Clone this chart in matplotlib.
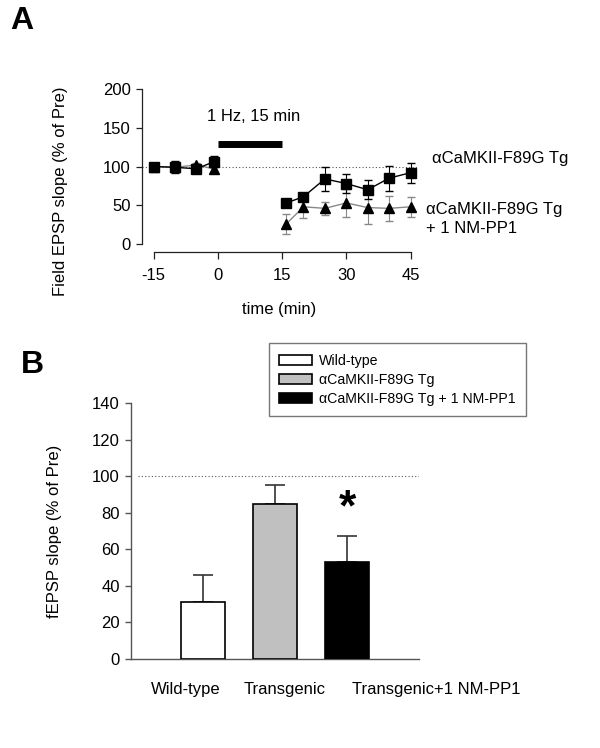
import matplotlib
matplotlib.use("Agg")
import matplotlib.pyplot as plt

plt.rcParams["font.family"] = ["Liberation Sans", "DejaVu Sans"]
plt.rcParams["font.size"] = 12
plt.rcParams["axes.unicode_minus"] = False

# panel A: time course (pre = baseline, post = after 1 Hz stimulation)
t_pre = [-15, -10, -5, -1]
t_post = [16, 20, 25, 30, 35, 40, 45]

tg_pre = [100, 99, 97, 106]
tg_pre_err = [2, 8, 4, 7]
tg_post = [53, 61, 84, 78, 70, 85, 92]
tg_post_err = [4, 3, 16, 12, 12, 16, 13]

nm_pre = [100, 99, 102, 97]
nm_pre_err = [2, 5, 3, 5]
nm_post = [26, 48, 46, 53, 47, 46, 48]
nm_post_err = [13, 14, 8, 18, 21, 16, 13]

stim_start, stim_end = 0, 15
x_ticks_a = [-15, 0, 15, 30, 45]
y_ticks_a = [0, 50, 100, 150, 200]

# panel B: summary bars
groups = ["Wild-type", "Transgenic", "Transgenic+1 NM-PP1"]
legend_names = ["Wild-type", "\u03b1CaMKII-F89G Tg", "\u03b1CaMKII-F89G Tg + 1 NM-PP1"]
bar_mean = [31, 84.5, 53]
bar_err = [15, 10.5, 14.5]
bar_colors = ["white", "#c0c0c0", "black"]
y_ticks_b = [0, 20, 40, 60, 80, 100, 120, 140]

fig = plt.figure(figsize=(6, 7.48), dpi=100)

# ---------------- A ----------------
ax = fig.add_axes([0.2367, 0.6738, 0.4583, 0.2072])
ax.axhline(100, color="#555555", ls=(0, (1, 2)), lw=0.8, zorder=1)
for tt, mm, ee in [(t_pre, nm_pre, nm_pre_err), (t_post, nm_post, nm_post_err)]:
    ax.errorbar(tt, mm, yerr=ee, color="#888888", lw=1, ecolor="#888888",
                elinewidth=0.8, capsize=3, marker="^", ms=7, mfc="black", mec="black", zorder=3)
for tt, mm, ee in [(t_pre, tg_pre, tg_pre_err), (t_post, tg_post, tg_post_err)]:
    ax.errorbar(tt, mm, yerr=ee, color="black", lw=1, ecolor="black",
                elinewidth=0.8, capsize=3, marker="s", ms=7, mfc="black", mec="black", zorder=4)
ax.plot([stim_start, stim_end], [129, 129], color="black", lw=5, solid_capstyle="butt")
ax.text(-2.6, 165, "1 Hz, 15 min", ha="left", va="center")

ax.text(49.9, 110, "\u03b1CaMKII-F89G Tg", ha="left", va="center", clip_on=False)
ax.text(48.7, 45, "\u03b1CaMKII-F89G Tg", ha="left", va="center", clip_on=False)
ax.text(48.7, 20.5, "+ 1 NM-PP1", ha="left", va="center", clip_on=False)

ax.set_xlim(-17.7, 46.5)
ax.set_ylim(0, 200)
ax.set_xticks(x_ticks_a)
ax.set_yticks(y_ticks_a)
for s in ["top", "right"]:
    ax.spines[s].set_visible(False)
ax.spines["bottom"].set_position(("outward", 6))
ax.spines["bottom"].set_bounds(-15, 45)
ax.spines["left"].set_bounds(0, 200)
for s in ["bottom", "left"]:
    ax.spines[s].set_linewidth(0.9)
    ax.spines[s].set_color("#222222")
ax.tick_params(axis="x", direction="out", length=5, width=0.9, color="#222222", pad=6)
ax.tick_params(axis="y", direction="out", length=4, width=0.9, color="#222222", pad=4)
ax.set_xlabel("time (min)", labelpad=14)
ax.set_ylabel("Field EPSP slope (% of Pre)")
ax.yaxis.set_label_coords(-0.27, 0.34)

# ---------------- B ----------------
bx = fig.add_axes([0.2183, 0.119, 0.48, 0.3422])
pos = [1, 2, 3]
bars = bx.bar(pos, bar_mean, width=0.61, color=bar_colors, edgecolor="black",
              linewidth=1.2, zorder=3)
bx.errorbar(pos, bar_mean, yerr=[[0, 0, 0], bar_err], fmt="none", ecolor="#333333",
            elinewidth=1.2, capsize=7, capthick=1.2, zorder=2)
bx.axhline(100, xmin=0.025, xmax=1, color="#555555", ls=(0, (1, 2)), lw=0.8, zorder=1)
bx.text(3, 82, "*", ha="center", va="center", fontsize=32, fontweight="bold")

bx.set_xlim(0, 4)
bx.set_ylim(0, 140)
bx.set_yticks(y_ticks_b)
bx.set_xticks([])
for s in ["top", "right"]:
    bx.spines[s].set_visible(False)
for s in ["bottom", "left"]:
    bx.spines[s].set_linewidth(1.0)
    bx.spines[s].set_color("#555555")
bx.tick_params(axis="y", direction="out", length=4, width=1.0, color="#555555", pad=4)
bx.set_ylabel("fEPSP slope (% of Pre)")
bx.yaxis.set_label_coords(-0.24, 0.5)

label_x = [0.764, 2.13, 4.24]
for xx, name in zip(label_x, groups):
    bx.text(xx, -0.121, name, transform=bx.get_xaxis_transform(), ha="center",
            va="center", clip_on=False)

leg = fig.legend(bars, legend_names, loc="upper left", bbox_to_anchor=(0.448, 0.5414),
                 fontsize=10.2, frameon=True, fancybox=False, handlelength=2.3,
                 handleheight=0.7, labelspacing=0.35, borderpad=0.75, handletextpad=0.5,
                 borderaxespad=0)
leg.get_frame().set_edgecolor("#555555")
leg.get_frame().set_linewidth(1.0)

fig.text(10 / 600, 1 - 6 / 748, "A", fontsize=23, fontweight="bold", ha="left", va="top")
fig.text(21 / 600, 1 - 350 / 748, "B", fontsize=23, fontweight="bold", ha="left", va="top")

fig.savefig("out.png", dpi=100)
